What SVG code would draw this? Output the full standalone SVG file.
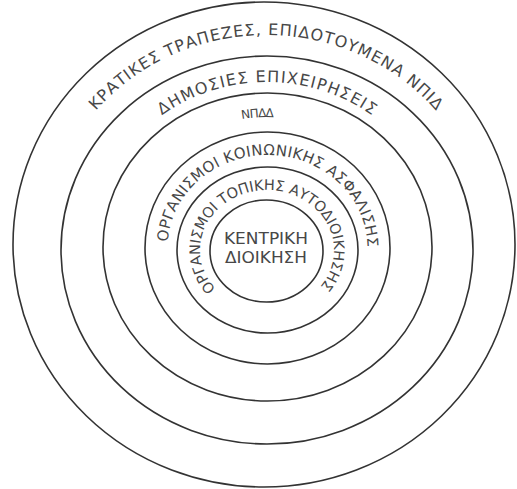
<svg xmlns="http://www.w3.org/2000/svg" xmlns:xlink="http://www.w3.org/1999/xlink" width="517" height="489" viewBox="0 0 517 489">
<style>
.ring{fill:none;stroke:#333;stroke-width:1.6}
.lbl{font-family:"DejaVu Sans","Liberation Sans",sans-serif;fill:#474747;text-anchor:middle}
.big{font-size:16px}
.mid{font-size:15px}
.sml{font-size:14.5px}
.ctr{font-size:15px}
</style>
<defs>
<path id="p6" d="M 44 247 A 222 212 0 0 1 488 247"/>
<path id="p5" d="M 92 248 A 175 166 0 0 1 442 248"/>
<path id="p4" d="M 129 248 A 138 131 0 0 1 405 248"/>
<path id="p3" d="M 233.3 335.4 A 100 93 0 1 1 301.7 335.4"/>
<path id="p2" d="M 255.4 309.1 A 67 60 0 1 1 278.6 309.1"/>
</defs>
<rect width="517" height="489" fill="#fff"/>
<g id="ring6"><ellipse class="ring" cx="264" cy="244.5" rx="251" ry="242.5"/>
<text class="lbl big"><textPath xlink:href="#p6" href="#p6" startOffset="50%" textLength="384" lengthAdjust="spacing">ΚΡΑΤΙΚΕΣ ΤΡΑΠΕΖΕΣ, ΕΠΙΔΟΤΟΥΜΕΝΑ ΝΠΙΔ</textPath></text></g>
<g id="ring5"><ellipse class="ring" cx="267" cy="250" rx="206" ry="194"/>
<text class="lbl big"><textPath xlink:href="#p5" href="#p5" startOffset="50%" textLength="224" lengthAdjust="spacing">ΔΗΜΟΣΙΕΣ ΕΠΙΧΕΙΡΗΣΕΙΣ</textPath></text></g>
<g id="ring4"><ellipse class="ring" cx="267.5" cy="247" rx="164.5" ry="154"/>
<text class="lbl" style="font-size:12px"><textPath xlink:href="#p4" href="#p4" startOffset="47.8%" textLength="32" lengthAdjust="spacing">ΝΠΔΔ</textPath></text></g>
<g id="ring3"><ellipse class="ring" cx="267.5" cy="248" rx="122.5" ry="116"/>
<text class="lbl mid"><textPath xlink:href="#p3" href="#p3" startOffset="50.47%" textLength="296" lengthAdjust="spacing">ΟΡΓΑΝΙΣΜΟΙ ΚΟΙΝΩΝΙΚΗΣ ΑΣΦΑΛΙΣΗΣ</textPath></text></g>
<g id="ring2"><ellipse class="ring" cx="267.5" cy="250" rx="90.5" ry="83"/>
<text class="lbl sml"><textPath xlink:href="#p2" href="#p2" startOffset="49.56%" textLength="282" lengthAdjust="spacing">ΟΡΓΑΝΙΣΜΟΙ ΤΟΠΙΚΗΣ ΑΥΤΟΔΙΟΙΚΗΣΗΣ</textPath></text></g>
<g id="ring1"><ellipse class="ring" cx="266.5" cy="251" rx="56.5" ry="51"/>
<text class="lbl ctr" x="266" y="244" textLength="84" lengthAdjust="spacingAndGlyphs">ΚΕΝΤΡΙΚΗ</text>
<text class="lbl ctr" x="266" y="263" textLength="82" lengthAdjust="spacingAndGlyphs">ΔΙΟΙΚΗΣΗ</text></g>
<g id="connectors"/>
</svg>
